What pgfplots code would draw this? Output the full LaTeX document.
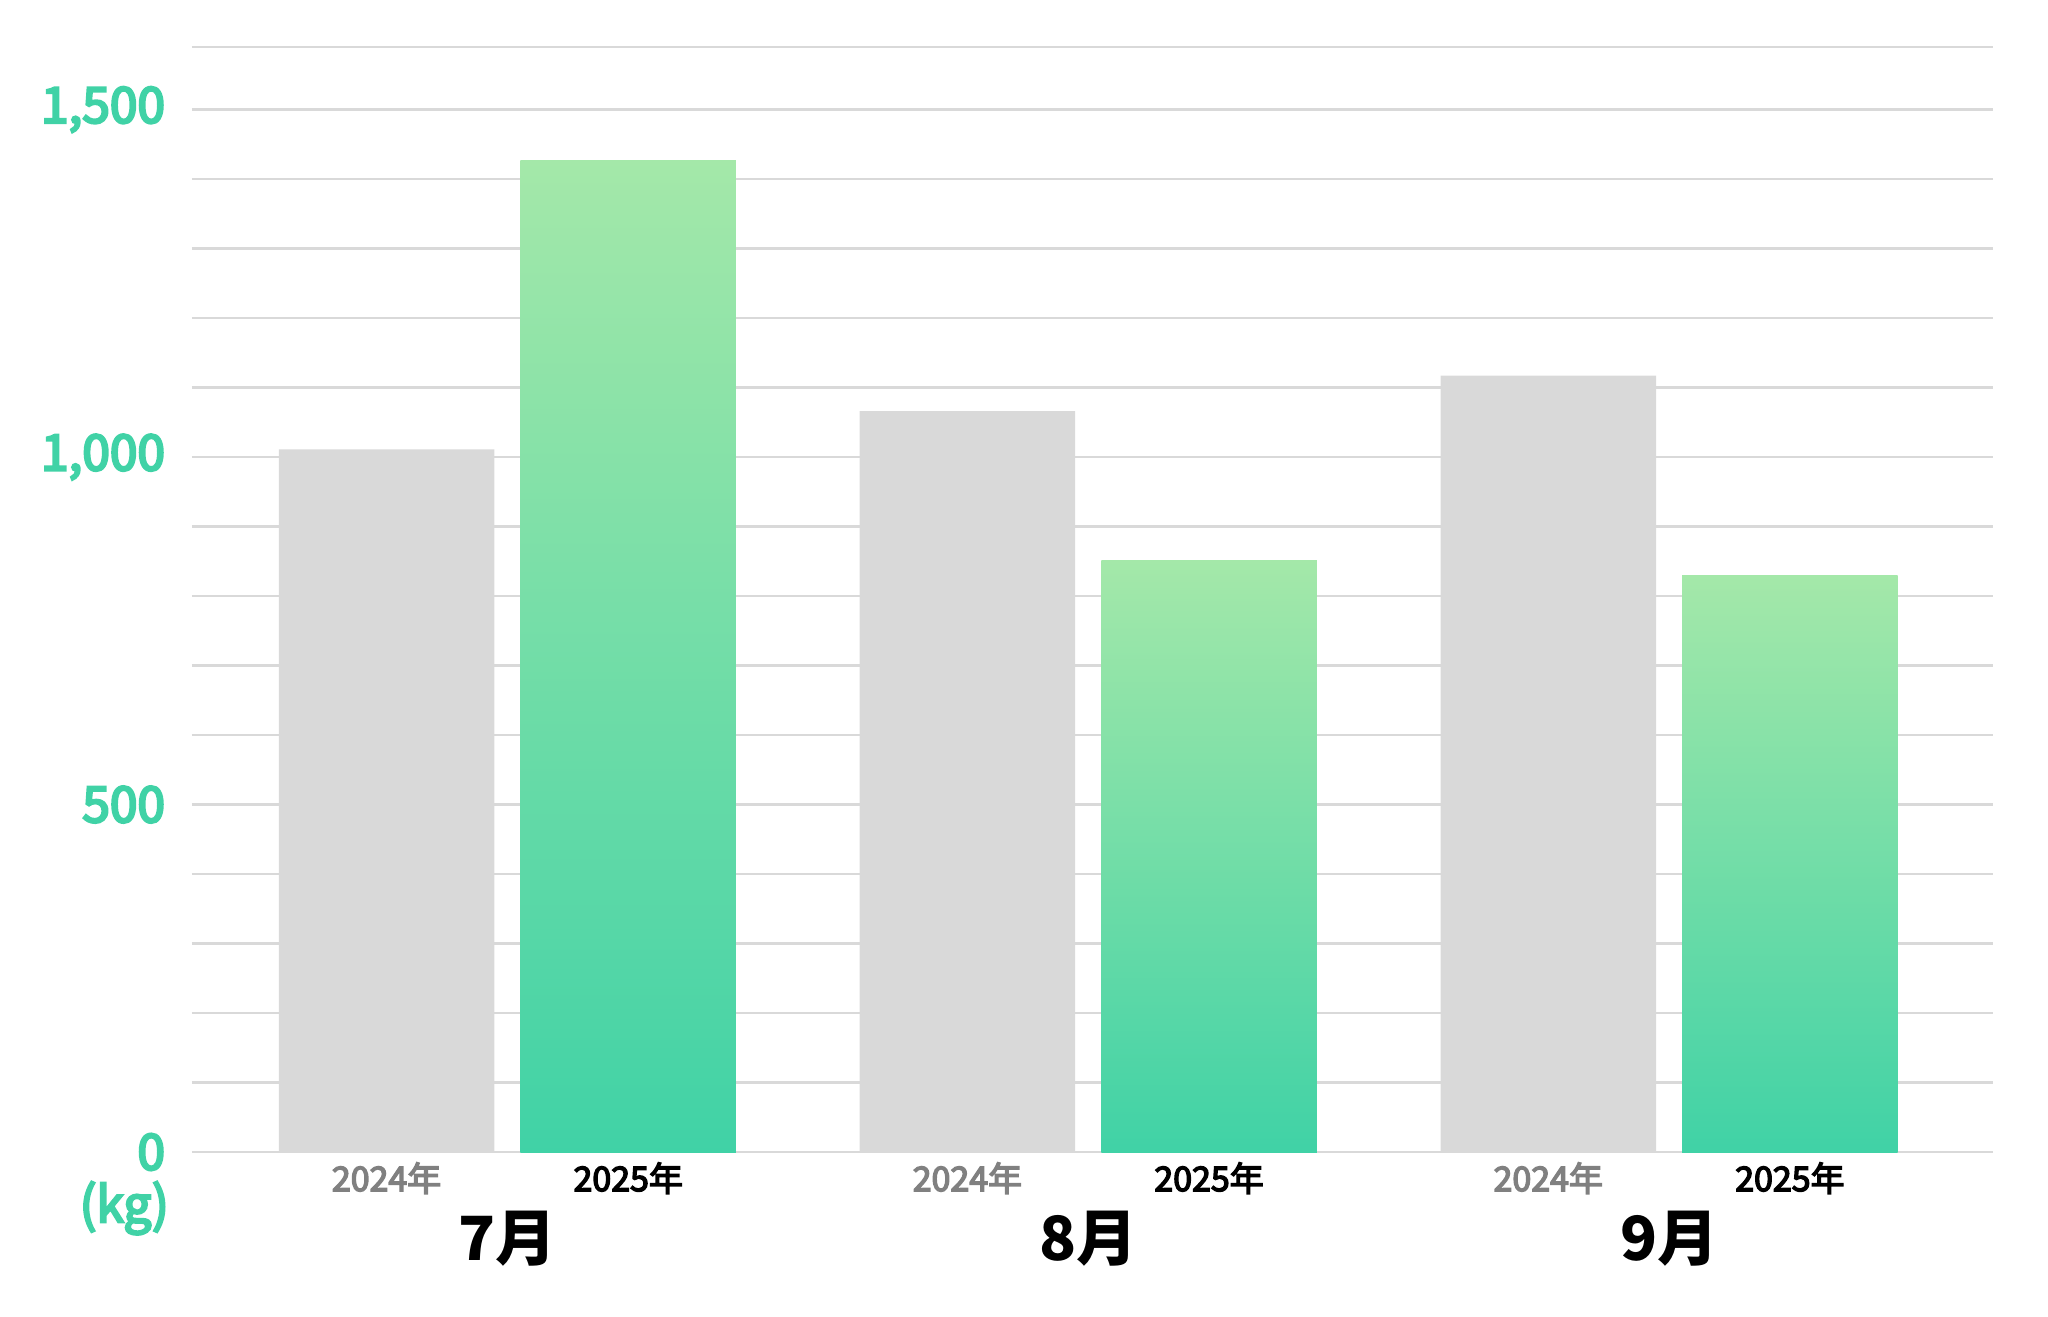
\documentclass[border=0pt]{standalone}
\usepackage{pgfplots}
\pgfplotsset{compat=1.18}
\usepackage{fontspec}
\setmainfont{Noto Sans CJK JP}
\newfontfamily\jp{Noto Sans CJK JP}
\newcommand\md[2][0.55]{\special{pdf:literal direct 2 Tr #1 w}#2\special{pdf:literal direct 0 Tr}}
\definecolor{tealc}{HTML}{40D2A6}
\definecolor{lgreen}{HTML}{A4E8A9}
\definecolor{gridc}{HTML}{D9D9D9}
\definecolor{yeargray}{HTML}{808080}
\tikzset{
  yearA/.style={font=\jp\fontsize{7.8}{9}\selectfont, text=yeargray, inner sep=0pt},
  yearB/.style={font=\jp\fontsize{7.8}{9}\selectfont, text=black, inner sep=0pt},
  month/.style={font=\jp\bfseries\fontsize{14}{16}\selectfont, text=black, inner sep=0pt},
  gbar/.style={top color=lgreen, bottom color=tealc, draw=none, bar shift=0.208},
}
\begin{document}
\begin{tikzpicture}
\useasboundingbox (-44.1pt,-37.8pt) rectangle (426.3pt,264.6pt);
\begin{axis}[
  scale only axis, width=413.7pt, height=253.8pt,
  xmin=-0.543, xmax=2.558, ymin=0, ymax=1590,
  axis line style={draw=none},
  xtick=\empty,
  ytick={0,500,1000,1500},
  minor ytick={100,200,300,400,600,700,800,900,1100,1200,1300,1400},
  ymajorgrids, yminorgrids,
  major grid style={draw=gridc, line width=0.5pt},
  minor grid style={draw=gridc, line width=0.5pt},
  major tick length=0pt, minor tick length=0pt,
  yticklabel style={font=\jp\fontsize{11.4}{12}\selectfont, text=tealc, anchor=east, inner sep=0pt, xshift=-6pt},
  yticklabel={\md{\pgfmathprintnumber{\tick}}},
  /pgf/number format/1000 sep={,},
  /pgf/number format/assume math mode=true,
  clip=false,
  ybar, bar width=0.371,
]
% 2024
\addplot[fill=gridc, draw=none, bar shift=-0.208] coordinates {(0,1011) (1,1066) (2,1117)};
% 2025 (one plot per bar so each bar has its own gradient)
\addplot[gbar] coordinates {(0,1427)};
\addplot[gbar] coordinates {(1,851)};
\addplot[gbar] coordinates {(2,829)};
\draw[gridc, line width=0.5pt] (rel axis cs:0,1) -- (rel axis cs:1,1);
\node[yearA] at ([yshift=-6pt]axis cs:-0.208,0) {\md[0.32]{2024年}};
\node[yearB] at ([yshift=-6pt]axis cs:0.208,0) {\md[0.32]{2025年}};
\node[month] at ([yshift=-19.8pt]axis cs:0,0) {7月};
\node[yearA] at ([yshift=-6pt]axis cs:0.792,0) {\md[0.32]{2024年}};
\node[yearB] at ([yshift=-6pt]axis cs:1.208,0) {\md[0.32]{2025年}};
\node[month] at ([yshift=-19.8pt]axis cs:1,0) {8月};
\node[yearA] at ([yshift=-6pt]axis cs:1.792,0) {\md[0.32]{2024年}};
\node[yearB] at ([yshift=-6pt]axis cs:2.208,0) {\md[0.32]{2025年}};
\node[month] at ([yshift=-19.8pt]axis cs:2,0) {9月};
\node[font=\jp\fontsize{11.4}{12}\selectfont, text=tealc, anchor=east, inner sep=0pt] at ([xshift=-5.1pt,yshift=-12.9pt]rel axis cs:0,0) {\md{(kg)}};
\end{axis}
\end{tikzpicture}
\end{document}
